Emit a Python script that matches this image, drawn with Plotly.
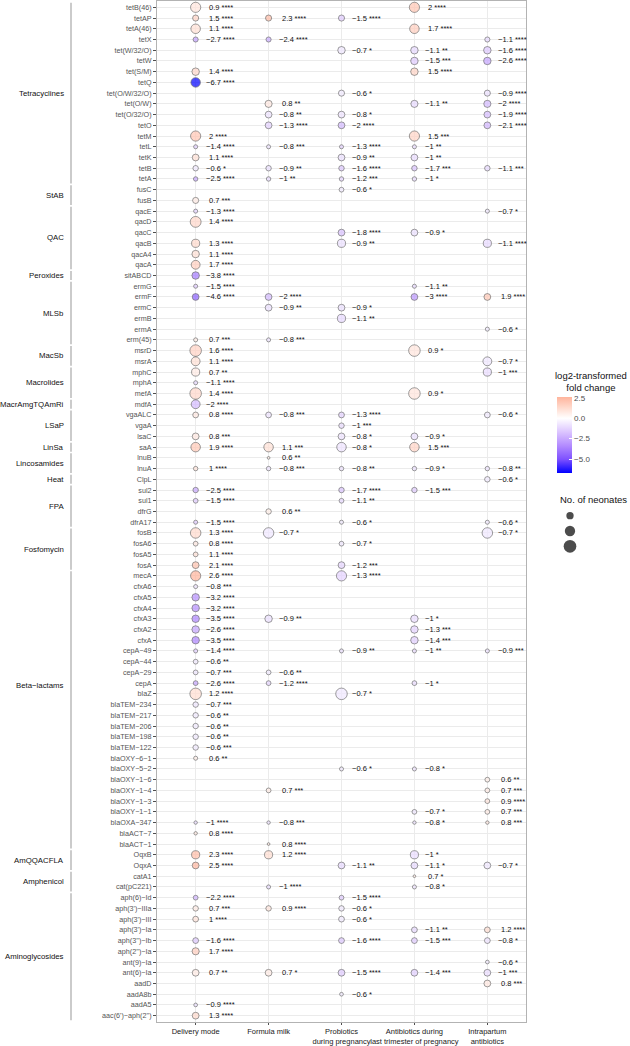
import numpy as np
import plotly.graph_objects as go

# genes, top to bottom (ASCII hyphens, shown as minus signs like the R device does)
genes = [
    "tetB(46)", "tetAP", "tetA(46)", "tetX", "tet(W/32/O)", "tetW", "tet(S/M)", "tetQ",
    "tet(O/W/32/O)", "tet(O/W)", "tet(O/32/O)", "tetO", "tetM", "tetL", "tetK", "tetB", "tetA",
    "fusC", "fusB",
    "qacE", "qacD", "qacC", "qacB", "qacA4", "qacA",
    "sitABCD",
    "ermG", "ermF", "ermC", "ermB", "ermA", "erm(45)",
    "msrD", "msrA",
    "mphC", "mphA", "mefA",
    "mdfA",
    "vgaALC", "vgaA", "lsaC",
    "saA",
    "lnuB", "lnuA",
    "ClpL",
    "sul2", "sul1", "dfrG", "dfrA17",
    "fosB", "fosA6", "fosA5", "fosA",
    "mecA", "cfxA6", "cfxA5", "cfxA4", "cfxA3", "cfxA2", "cfxA", "cepA-49", "cepA-44",
    "cepA-29", "cepA", "blaZ", "blaTEM-234", "blaTEM-217", "blaTEM-206", "blaTEM-198",
    "blaTEM-122", "blaOXY-6-1", "blaOXY-5-2", "blaOXY-1-6", "blaOXY-1-4", "blaOXY-1-3",
    "blaOXY-1-1", "blaOXA-347", "blaACT-7", "blaACT-1",
    "OqxB", "OqxA",
    "catA1", "cat(pC221)",
    "aph(6)-Id", "aph(3')-IIIa", "aph(3')-III", "aph(3')-Ia", "aph(3'')-Ib", "aph(2'')-Ia",
    "ant(9)-Ia", "ant(6)-Ia", "aadD", "aadA8b", "aadA5", "aac(6')-aph(2'')",
]

# number of neonates carrying each gene (bubble size), same order as genes
neonates = [
    195, 70, 170, 49, 105, 105, 105, 170, 70, 96, 87, 87, 195, 31, 87, 56, 37,
    43, 70,
    31, 222, 87, 125, 105, 147,
    105,
    31, 87, 87, 125, 31, 31,
    251, 147,
    125, 31, 251,
    147,
    63, 56, 87,
    170,
    14, 37,
    56,
    56, 43, 56, 31,
    208, 43, 43, 87,
    195, 31, 105, 105, 105, 105, 105, 31, 43, 43, 43, 251, 56, 56, 56, 56, 56,
    31, 31, 43, 43, 43, 43, 22, 22, 14,
    125, 87,
    14, 31,
    43, 56, 63, 63, 63, 96, 26, 87, 87, 26, 26, 87,
]

group_names = ["Tetracyclines", "StAB", "QAC", "Peroxides", "MLSb", "MacSb", "Macrolides",
               "MacrAmgTQAmRi", "LSaP", "LinSa", "Lincosamides", "Heat", "FPA", "Fosfomycin",
               "Beta-lactams", "AmQQACFLA", "Amphenicol", "Aminoglycosides"]
group_sizes = [17, 2, 6, 1, 6, 2, 3, 1, 3, 1, 2, 1, 4, 4, 26, 2, 2, 12]

exposures = ["Delivery mode", "Formula milk", "Probiotics during pregnancy",
             "Antibiotics during last trimester of pregnancy", "Intrapartum antibiotics"]
exposure_ticks = ["Delivery mode", "Formula milk", "Probiotics<br>during pregnancy",
                  "Antibiotics during<br>last trimester of pregnancy", "Intrapartum<br>antibiotics"]

# log2 fold change and significance stars per exposure
delivery_mode = {
    "tetB(46)": (0.9, "****"), "tetAP": (1.5, "****"), "tetA(46)": (1.1, "****"),
    "tetX": (-2.7, "****"), "tet(S/M)": (1.4, "****"), "tetQ": (-6.7, "****"),
    "tetM": (2, "****"), "tetL": (-1.4, "****"), "tetK": (1.1, "****"), "tetB": (-0.6, "*"),
    "tetA": (-2.5, "****"), "fusB": (0.7, "***"), "qacE": (-1.3, "****"), "qacD": (1.4, "****"),
    "qacB": (1.3, "****"), "qacA4": (1.1, "****"), "qacA": (1.7, "****"),
    "sitABCD": (-3.8, "****"), "ermG": (-1.5, "****"), "ermF": (-4.6, "****"),
    "erm(45)": (0.7, "***"), "msrD": (1.6, "****"), "msrA": (1.1, "****"), "mphC": (0.7, "**"),
    "mphA": (-1.1, "****"), "mefA": (1.4, "****"), "mdfA": (-2, "****"),
    "vgaALC": (0.8, "****"), "lsaC": (0.8, "***"), "saA": (1.9, "****"), "lnuA": (1, "****"),
    "sul2": (-2.5, "****"), "sul1": (-1.5, "****"), "dfrA17": (-1.5, "****"),
    "fosB": (1.3, "****"), "fosA6": (0.8, "****"), "fosA5": (1.1, "****"), "fosA": (2.1, "****"),
    "mecA": (2.6, "****"), "cfxA6": (-0.8, "***"), "cfxA5": (-3.2, "****"),
    "cfxA4": (-3.2, "****"), "cfxA3": (-3.5, "****"), "cfxA2": (-2.6, "****"),
    "cfxA": (-3.5, "****"), "cepA-49": (-1.4, "****"), "cepA-44": (-0.6, "**"),
    "cepA-29": (-0.7, "***"), "cepA": (-2.6, "****"), "blaZ": (1.2, "****"),
    "blaTEM-234": (-0.7, "***"), "blaTEM-217": (-0.6, "**"), "blaTEM-206": (-0.6, "**"),
    "blaTEM-198": (-0.6, "**"), "blaTEM-122": (-0.6, "***"), "blaOXY-6-1": (0.6, "**"),
    "blaOXA-347": (-1, "****"), "blaACT-7": (0.8, "****"), "OqxB": (2.3, "****"),
    "OqxA": (2.5, "****"), "aph(6)-Id": (-2.2, "****"), "aph(3')-IIIa": (0.7, "***"),
    "aph(3')-III": (1, "****"), "aph(3'')-Ib": (-1.6, "****"), "aph(2'')-Ia": (1.7, "****"),
    "ant(6)-Ia": (0.7, "**"), "aadA5": (-0.9, "****"), "aac(6')-aph(2'')": (1.3, "****"),
}
formula_milk = {
    "tetAP": (2.3, "****"), "tetX": (-2.4, "****"), "tet(O/W)": (0.8, "**"),
    "tet(O/32/O)": (-0.8, "**"), "tetO": (-1.3, "****"), "tetL": (-0.8, "***"),
    "tetB": (-0.9, "**"), "tetA": (-1, "**"), "ermF": (-2, "****"), "ermC": (-0.9, "**"),
    "erm(45)": (-0.8, "***"), "vgaALC": (-0.8, "***"), "saA": (1.1, "***"),
    "lnuB": (0.6, "**"), "lnuA": (-0.8, "***"), "dfrG": (0.6, "**"), "fosB": (-0.7, "*"),
    "cfxA3": (-0.9, "**"), "cepA-29": (-0.6, "**"), "cepA": (-1.2, "****"),
    "blaOXY-1-4": (0.7, "***"), "blaOXA-347": (-0.8, "***"), "blaACT-1": (0.8, "****"),
    "OqxB": (1.2, "****"), "cat(pC221)": (-1, "****"), "aph(3')-IIIa": (0.9, "****"),
    "ant(6)-Ia": (0.7, "*"),
}
probiotics = {
    "tetAP": (-1.5, "****"), "tet(W/32/O)": (-0.7, "*"), "tet(O/W/32/O)": (-0.6, "*"),
    "tet(O/32/O)": (-0.8, "*"), "tetO": (-2, "****"), "tetL": (-1.3, "****"),
    "tetK": (-0.9, "**"), "tetB": (-1.6, "****"), "tetA": (-1.2, "***"), "fusC": (-0.6, "*"),
    "qacC": (-1.8, "****"), "qacB": (-0.9, "**"), "ermC": (-0.9, "*"), "ermB": (-1.1, "**"),
    "vgaALC": (-1.3, "****"), "vgaA": (-1, "***"), "lsaC": (-0.8, "*"), "saA": (-0.8, "*"),
    "lnuA": (-0.8, "**"), "sul2": (-1.7, "****"), "sul1": (-1.1, "**"), "dfrA17": (-0.6, "*"),
    "fosA6": (-0.7, "*"), "fosA": (-1.2, "***"), "mecA": (-1.3, "****"),
    "cepA-49": (-0.9, "**"), "blaZ": (-0.7, "*"), "blaOXY-5-2": (-0.6, "*"),
    "OqxA": (-1.1, "**"), "aph(6)-Id": (-1.5, "****"), "aph(3')-IIIa": (-0.6, "*"),
    "aph(3')-III": (-0.6, "*"), "aph(3'')-Ib": (-1.6, "****"), "ant(6)-Ia": (-1.5, "****"),
    "aadA8b": (-0.6, "*"),
}
antibiotics_trimester = {
    "tetB(46)": (2, "****"), "tetA(46)": (1.7, "****"), "tet(W/32/O)": (-1.1, "**"),
    "tetW": (-1.5, "***"), "tet(S/M)": (1.5, "****"), "tet(O/W)": (-1.1, "**"),
    "tetM": (1.5, "***"), "tetL": (-1, "**"), "tetK": (-1, "**"), "tetB": (-1.7, "***"),
    "tetA": (-1, "*"), "qacC": (-0.9, "*"), "ermG": (-1.1, "**"), "ermF": (-3, "****"),
    "msrD": (0.9, "*"), "mefA": (0.9, "*"), "lsaC": (-0.9, "*"), "saA": (1.5, "***"),
    "lnuA": (-0.9, "*"), "sul2": (-1.5, "***"), "cfxA3": (-1, "*"), "cfxA2": (-1.3, "***"),
    "cfxA": (-1.4, "***"), "cepA-49": (-1, "**"), "cepA": (-1, "*"),
    "blaOXY-5-2": (-0.8, "*"), "blaOXY-1-1": (-0.7, "*"), "blaOXA-347": (-0.8, "*"),
    "OqxB": (-1, "*"), "OqxA": (-1.1, "*"), "catA1": (0.7, "*"), "cat(pC221)": (-0.8, "*"),
    "aph(3')-Ia": (-1.1, "**"), "aph(3'')-Ib": (-1.5, "***"), "ant(6)-Ia": (-1.4, "***"),
}
intrapartum = {
    "tetX": (-1.1, "****"), "tet(W/32/O)": (-1.6, "****"), "tetW": (-2.6, "****"),
    "tet(O/W/32/O)": (-0.9, "****"), "tet(O/W)": (-2, "****"), "tet(O/32/O)": (-1.9, "****"),
    "tetO": (-2.1, "****"), "tetB": (-1.1, "***"), "qacE": (-0.7, "*"), "qacB": (-1.1, "****"),
    "ermF": (1.9, "****"), "ermA": (-0.6, "*"), "msrA": (-0.7, "*"), "mphC": (-1, "***"),
    "vgaALC": (-0.6, "*"), "lnuA": (-0.8, "**"), "ClpL": (-0.6, "*"), "dfrA17": (-0.6, "*"),
    "fosB": (-0.7, "*"), "cepA-49": (-0.9, "***"), "blaOXY-1-6": (0.6, "**"),
    "blaOXY-1-4": (0.7, "***"), "blaOXY-1-3": (0.9, "****"), "blaOXY-1-1": (0.7, "***"),
    "blaOXA-347": (0.8, "***"), "OqxA": (-0.7, "*"), "aph(3')-Ia": (1.2, "****"),
    "aph(3'')-Ib": (-0.8, "*"), "ant(9)-Ia": (-0.6, "*"), "ant(6)-Ia": (-1, "***"),
    "aadD": (0.8, "***"),
}
size_legend = [100, 200, 300]

columns = [delivery_mode, formula_milk, probiotics, antibiotics_trimester, intrapartum]

FONT = "Liberation Sans, Arial, Helvetica, sans-serif"
MINUS = "\u2212"


def show(s):
    return s.replace("-", MINUS)


def fmt(v):
    return (MINUS if v < 0 else "") + f"{abs(v):g}"


def bubble(n):
    return 0.73 * np.sqrt(n)


# figure geometry (px) -> paper coords
W, H = 630, 1046
ML, MR, MT, MB = 157, 5, 1, 24
PW, PH = W - ML - MR, H - MT - MB


def px_x(px):
    return (px - ML) / PW


def px_y(py):
    return (H - MB - py) / PH


size_of = dict(zip(genes, neonates))
xs, ys, vals, sizes, annos = [], [], [], [], []
for exp, col in zip(exposures, columns):
    for g, (v, stars) in col.items():
        xs.append(exp)
        ys.append(show(g))
        vals.append(v)
        d = bubble(size_of[g])
        sizes.append(d)
        annos.append(dict(
            x=exp, y=show(g), xref="x", yref="y", text=f"{fmt(v)} {stars}",
            showarrow=False, xanchor="left", yanchor="middle",
            xshift=max(8.5, d / 2 + 3) + (3 if v > 0 else 0),
            font=dict(size=7.5, color="#111111", family=FONT)))

cmin, cmax = min(vals), max(vals)
z0 = -cmin / (cmax - cmin)
colorscale = [
    [0.0, "#0000FF"], [0.25 * z0, "#7E51FF"], [0.5 * z0, "#B38BFF"], [0.75 * z0, "#DCC5FF"],
    [z0, "#FFFFFF"], [z0 + 0.5 * (1 - z0), "#FFDACD"], [1.0, "#FFB49C"],
]

fig = go.Figure()
fig.add_trace(go.Scatter(
    x=xs, y=ys, mode="markers", showlegend=False, hoverinfo="skip",
    marker=dict(size=sizes, sizemode="diameter", color=vals, colorscale=colorscale,
                cmin=cmin, cmax=cmax, line=dict(width=0.7, color="#3a3a3a"),
                colorbar=dict(x=px_x(557), xanchor="left", y=px_y(435), yanchor="middle",
                              len=76, lenmode="pixels", thickness=15, xpad=0, ypad=0,
                              outlinewidth=0, tickvals=[-5, -2.5, 0, 2.5],
                              ticktext=[MINUS + "5.0", MINUS + "2.5", "0.0", "2.5"],
                              ticks="inside", ticklen=3, tickcolor="white",
                              tickfont=dict(size=8, color="#4D4D4D", family=FONT)))))

# size legend drawn on its own small axes
fig.add_trace(go.Scatter(
    x=["n"] * 3, y=[str(n) for n in size_legend], xaxis="x2", yaxis="y2",
    mode="markers", showlegend=False, hoverinfo="skip",
    marker=dict(size=[bubble(n) for n in size_legend], color="black", line=dict(width=0))))
for n in size_legend:
    annos.append(dict(x=px_x(583), xref="paper", y=str(n), yref="y2", text=str(n),
                      showarrow=False, xanchor="left", yanchor="middle",
                      font=dict(size=8, color="#222222", family=FONT)))

annos.append(dict(x=px_x(591), xref="paper", y=px_y(381), yref="paper",
                  text="log2-transformed<br>fold change", showarrow=False, align="center",
                  xanchor="center", yanchor="middle",
                  font=dict(size=9.5, color="#111111", family=FONT)))
annos.append(dict(x=px_x(593), xref="paper", y=px_y(499), yref="paper",
                  text="No. of neonates", showarrow=False, xanchor="center", yanchor="middle",
                  font=dict(size=9.5, color="#111111", family=FONT)))

# class brackets and labels on the left
shapes = []
start = 0
for name, cnt in zip(group_names, group_sizes):
    end = start + cnt - 1
    shapes.append(dict(type="line", xref="paper", yref="y", x0=px_x(71), x1=px_x(71),
                       y0=start - 0.42, y1=end + 0.42, line=dict(color="#C6C6C6", width=1.8)))
    mid = (start + end) / 2
    if name == "Beta-lactams":
        mid = 63.2
    annos.append(dict(x=px_x(66), xref="paper", y=mid, yref="y", text=show(name),
                      showarrow=False, xanchor="right", yanchor="middle",
                      font=dict(size=7.8, color="#111111", family=FONT)))
    start = end + 1

n_genes = len(genes)
fig.update_layout(
    width=W, height=H, margin=dict(l=ML, r=MR, t=MT, b=MB, autoexpand=False),
    paper_bgcolor="white", plot_bgcolor="white",
    font=dict(family=FONT),
    xaxis=dict(domain=[0, px_x(526)], type="category", categoryorder="array",
               categoryarray=exposures, range=[-0.53, len(exposures) - 0.47],
               tickmode="array", tickvals=exposures, ticktext=exposure_ticks,
               tickangle=0, automargin=False,
               showgrid=True, gridcolor="#EBEBEB", gridwidth=0.6, zeroline=False,
               showline=True, mirror=True, linecolor="#B3B3B3", linewidth=1,
               ticks="outside", ticklen=2, tickwidth=0.6, tickcolor="#4D4D4D",
               tickfont=dict(size=7.5, color="#1A1A1A", family=FONT)),
    yaxis=dict(type="category", categoryorder="array", categoryarray=[show(g) for g in genes],
               range=[n_genes - 0.41, -0.59], tickmode="array", automargin=False,
               tickvals=[show(g) for g in genes], ticktext=[show(g) for g in genes],
               showgrid=True, gridcolor="#EBEBEB", gridwidth=0.6, zeroline=False,
               showline=True, mirror=True, linecolor="#B3B3B3", linewidth=1,
               ticks="outside", ticklen=3, tickwidth=0.6, tickcolor="#4D4D4D",
               tickfont=dict(size=7.2, color="#555555", family=FONT)),
    xaxis2=dict(domain=[px_x(560), px_x(580)], anchor="y2", type="category",
                automargin=False, showgrid=False, zeroline=False, showticklabels=False,
                showline=False, ticks=""),
    yaxis2=dict(domain=[px_y(554), px_y(508)], anchor="x2", type="category",
                categoryorder="array", categoryarray=[str(n) for n in size_legend],
                range=[2.5, -0.5], automargin=False, showgrid=False, zeroline=False,
                showticklabels=False, showline=False, ticks=""),
    shapes=shapes, annotations=annos,
)

fig.write_html("out.html", config={"displayModeBar": False},
               post_script="document.body.style.margin = '0';")
